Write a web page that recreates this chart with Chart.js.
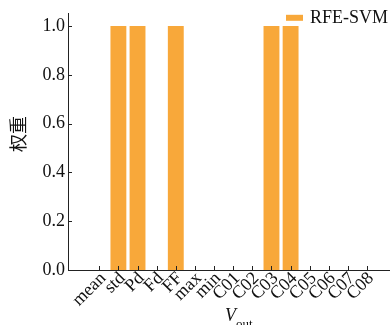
<!DOCTYPE html>
<html>
<head>
<meta charset="utf-8">
<script src="https://cdn.jsdelivr.net/npm/chart.js@4/dist/chart.umd.min.js"></script>
<style>
html,body{margin:0;padding:0;background:#fff;}
#wrap{width:390px;height:325px;position:relative;}
</style>
</head>
<body>
<div id="wrap"><canvas id="c" width="390" height="325"></canvas></div>
<script>
const categories = ['mean','std','Pd','Fd','FF','max','min','C01','C02','C03','C04','C05','C06','C07','C08'];
const rfeSvm = [0,1,1,0,1,0,0,0,0,1,1,0,0,0,0];
const yTicks = [0,0.2,0.4,0.6,0.8,1.0];
const seriesName = 'RFE-SVM';
const yTitle = '权重';

const SERIF = '"Liberation Serif", "Times New Roman", Times, serif';
const ORANGE = '#F8A83A';
Chart.defaults.font.family = SERIF;
Chart.defaults.font.size = 18;
Chart.defaults.color = '#111';

const extras = {
  id: 'extras',
  afterDraw(chart) {
    const ctx = chart.ctx;
    const xs = chart.scales.x, ys = chart.scales.y;
    ctx.save();
    ctx.strokeStyle = '#222';
    ctx.lineWidth = 1;
    ctx.beginPath();
    ys.ticks.forEach(t => {
      const y = Math.round(ys.getPixelForValue(t.value)) + 0.5;
      ctx.moveTo(ys.right, y); ctx.lineTo(ys.right + 4, y);
    });
    xs.ticks.forEach(t => {
      const x = Math.round(xs.getPixelForValue(t.value)) + 0.5;
      ctx.moveTo(x, xs.top); ctx.lineTo(x, xs.top - 4);
    });
    ctx.stroke();
    ctx.fillStyle = '#111';
    // x axis title V_out
    const cx = (chart.chartArea.left + chart.chartArea.right) / 2;
    ctx.textBaseline = 'alphabetic';
    ctx.textAlign = 'left';
    ctx.font = 'italic 18px ' + SERIF;
    ctx.fillText('V', cx - 4, 321);
    const vw = ctx.measureText('V').width;
    ctx.font = '13px ' + SERIF;
    ctx.fillText('out', cx - 4 + vw, 328);
    // y axis title
    ctx.save();
    ctx.translate(18, 134);
    ctx.rotate(-Math.PI / 2);
    ctx.textAlign = 'center';
    ctx.textBaseline = 'middle';
    ctx.font = '18px "Noto Sans CJK SC", sans-serif';
    ctx.fillText(yTitle, 0, 0);
    ctx.restore();
    // legend
    const ds = chart.data.datasets[0];
    const lx = chart.chartArea.right - 104, ly = chart.chartArea.top + 1;
    ctx.fillStyle = ds.backgroundColor;
    ctx.fillRect(lx, ly, 17, 6);
    ctx.fillStyle = '#111';
    ctx.font = '18px ' + SERIF;
    ctx.textBaseline = 'middle';
    ctx.textAlign = 'left';
    ctx.fillText(ds.label, lx + 24, ly + 3);
    ctx.restore();
  }
};

new Chart(document.getElementById('c'), {
  type: 'bar',
  data: {
    datasets: [{
      label: seriesName,
      data: rfeSvm.map((v, i) => ({x: i, y: v})),
      backgroundColor: ORANGE,
      borderWidth: 0,
      barPercentage: 0.83,
      categoryPercentage: 1.0
    }]
  },
  options: {
    responsive: false,
    animation: false,
    devicePixelRatio: 1,
    layout: {padding: {top: 12, right: 0, left: 0, bottom: 0}},
    plugins: {
      tooltip: {enabled: false},
      legend: {display: false}
    },
    scales: {
      x: {
        type: 'linear',
        min: -1.073,
        max: 14.634,
        afterBuildTicks: s => { s.ticks = categories.map((_, i) => ({value: i})); },
        afterFit: s => { s.height = 55; },
        grid: {display: false, drawTicks: false},
        border: {display: true, color: '#222', width: 1},
        ticks: {
          autoSkip: false,
          minRotation: 45,
          maxRotation: 45,
          padding: -2,
          labelOffset: 4,
          color: '#111',
          font: {family: SERIF, size: 18},
          callback: v => categories[v]
        }
      },
      y: {
        min: 0,
        max: 1.05,
        afterBuildTicks: s => { s.ticks = yTicks.map(v => ({value: v})); },
        afterFit: s => { s.width = 68; },
        grid: {display: false, drawTicks: false},
        border: {display: true, color: '#222', width: 1},
        ticks: {
          padding: 3,
          color: '#111',
          font: {family: SERIF, size: 18},
          callback: v => v.toFixed(1)
        }
      }
    }
  },
  plugins: [extras]
});
</script>
</body>
</html>
